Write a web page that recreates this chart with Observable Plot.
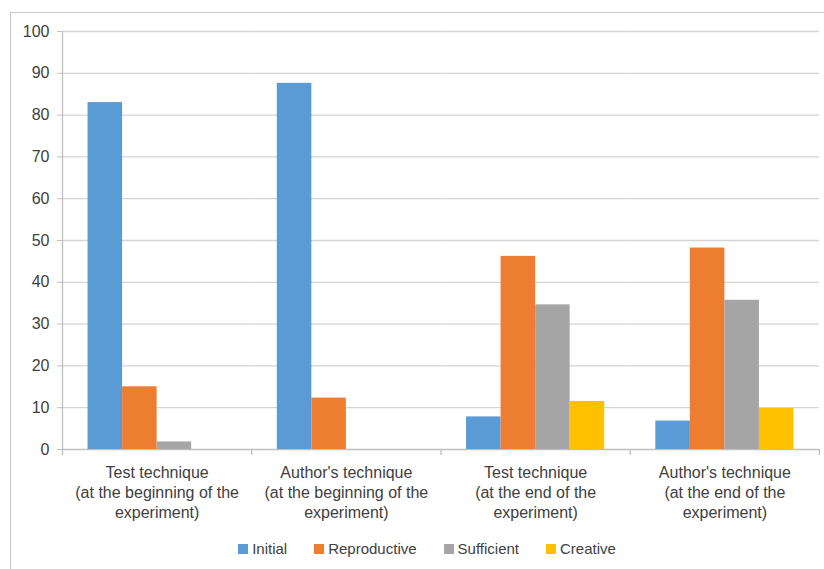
<!DOCTYPE html>
<html>
<head>
<meta charset="utf-8">
<script src="https://cdn.jsdelivr.net/npm/d3@7"></script>
<script src="https://cdn.jsdelivr.net/npm/@observablehq/plot@0.6"></script>
<style>
  html, body { margin: 0; padding: 0; background: #fff; overflow: hidden; }
  body { width: 824px; height: 569px; position: relative; font-family: "Liberation Sans", Arial, sans-serif; }
  #frame { position: absolute; left: 10px; top: 12px; width: 900px; height: 700px; border: 1px solid #c8c8c8; }
  #chart { position: absolute; left: 0; top: 0; }
  #legend { position: absolute; left: 10px; top: 532px; width: 834px; display: flex; justify-content: center; }
  #legend .lg-swatches { justify-content: center; font-size: 15px; color: #404040; font-family: "Liberation Sans", Arial, sans-serif; }
  #legend .lg-swatch { margin-right: 27px; }
  #legend .lg-swatch:last-child { margin-right: 0; }
  #legend .lg-swatch > svg { margin-right: 4px; }
</style>
</head>
<body>
<div id="frame"></div>
<div id="chart"></div>
<div id="legend"></div>
<script>
// ---- data ----
const categories = [
  "Test technique\n(at the beginning of the\nexperiment)",
  "Author's technique\n(at the beginning of the\nexperiment)",
  "Test technique\n(at the end of the\nexperiment)",
  "Author's technique\n(at the end of the\nexperiment)"
];
const series = ["Initial", "Reproductive", "Sufficient", "Creative"];
const initial = [83.0, 87.6, 7.8, 6.8];
const reproductive = [15.0, 12.3, 46.2, 48.2];
const sufficient = [1.8, 0, 34.6, 35.7];
const creative = [0, 0, 11.5, 9.8];
const yTicks = [0, 10, 20, 30, 40, 50, 60, 70, 80, 90, 100];
const colors = ["#5B9BD5", "#ED7D31", "#A5A5A5", "#FFC000"];

// ---- table ----
const valuesBySeries = [initial, reproductive, sufficient, creative];
const rows = [];
categories.forEach((c, i) => series.forEach((s, j) => rows.push({category: c, series: s, value: valuesBySeries[j][i]})));

// ---- layout ----
const W = 824, H = 525, ML = 62, MR = 5, MT = 31, MB = 76;
const step = (W - ML - MR) / categories.length;
const gridColor = "#d4d4d4", axisColor = "#bfbfbf", textColor = "#404040";
const font = "'Liberation Sans', Arial, sans-serif";

const chart = Plot.plot({
  width: W, height: H,
  marginLeft: ML, marginRight: MR, marginTop: MT, marginBottom: MB,
  style: {fontFamily: font, fontSize: "16px", color: textColor, background: "transparent"},
  fx: {domain: categories, padding: 0, round: false, label: null},
  x: {domain: series, paddingInner: 0, paddingOuter: 0.74, round: false, axis: null, label: null},
  y: {domain: [0, 100], label: null},
  color: {domain: series, range: colors},
  marks: [
    Plot.ruleY(yTicks.filter(d => d > 0), {stroke: gridColor, strokeWidth: 1.3}),
    Plot.ruleY([0], {stroke: axisColor, strokeWidth: 1.3}),
    Plot.barY(rows, {fx: "category", x: "series", y: "value", fill: "series"}),
    // y-axis line (left edge of first group)
    Plot.ruleX([categories[0]], {fx: d => d, x: null, y1: 0, y2: 100, dx: -step / 2, stroke: axisColor, strokeWidth: 1.3}),
    // category boundary ticks below the axis
    Plot.ruleX(categories, {fx: d => d, x: null, y1: 0, y2: 0, insetBottom: -6, dx: -step / 2, stroke: axisColor, strokeWidth: 1.3}),
    Plot.ruleX([categories[categories.length - 1]], {fx: d => d, x: null, y1: 0, y2: 0, insetBottom: -6, dx: step / 2, stroke: axisColor, strokeWidth: 1.3}),
    Plot.axisY(yTicks, {tickSize: 5, tickPadding: 8, stroke: axisColor, fill: textColor, fontSize: 16, label: null}),
    Plot.axisFx({anchor: "bottom", tickSize: 0, tickPadding: 14, lineHeight: 1.25, fontSize: 16, fill: textColor, label: null})
  ]
});
document.getElementById("chart").appendChild(chart);

const legend = Plot.legend({
  color: {domain: series, range: colors},
  swatchSize: 10,
  className: "lg",
  style: {fontFamily: font, fontSize: "15px", color: textColor}
});
document.getElementById("legend").appendChild(legend);
</script>
</body>
</html>
